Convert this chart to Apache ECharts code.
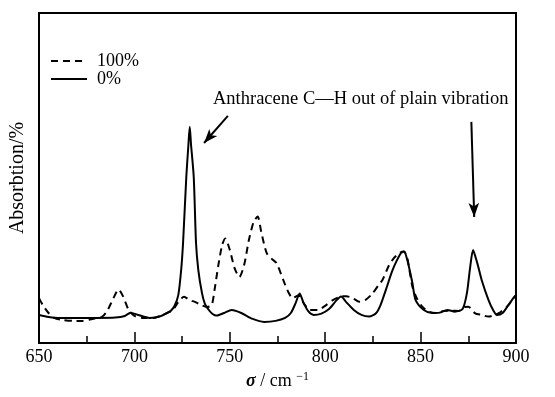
<!DOCTYPE html>
<html>
<head>
<meta charset="utf-8">
<script src="https://cdn.jsdelivr.net/npm/echarts@6/dist/echarts.min.js"></script>
<style>
    html, body { margin: 0; padding: 0; background: #fff; }
    #chart { width: 555px; height: 397px; }
</style>
</head>
<body>
<div id="chart"></div>
<script>
// wavenumber / absorbtion (arbitrary units, 0-100 of plot height)
const solid0 = [
    [650, 8.5], [655, 7.9], [660, 7.6], [670, 7.6], [680, 7.6], [690, 7.7], [695, 8.2],
    [698, 9.2], [702, 8.5], [708, 7.6], [714, 8.2], [718, 9.4], [719, 9.7], [721, 11.2],
    [723, 14.5], [724.5, 22.1], [725.5, 30.3], [727.2, 50.3], [728.3, 60], [729, 65.5],
    [729.7, 60], [731.1, 50.3], [732.3, 30.3], [733.5, 22.1], [735.4, 15.2], [737, 11.8],
    [739, 10], [741, 8.8], [743, 8.3], [747, 9.1], [751, 10], [756, 9.1], [762, 7.3],
    [768, 6.4], [774, 6.7], [779, 7.6], [782, 9.1], [784.5, 12.1], [786.6, 15], [788.5, 12.4],
    [791, 9.7], [794, 8.5], [798, 8.9], [802, 10.3], [806, 13], [808.3, 14.1], [811, 12.4],
    [815, 10], [819, 8.5], [823, 8], [826.6, 9], [829, 11.5], [831.8, 16.1], [835.3, 22.1],
    [839.6, 27.2], [841.3, 27.7], [843, 25.2], [845.7, 18.2], [847.4, 13], [851.7, 10],
    [856, 9.1], [860, 9.2], [864, 10], [868, 9.5], [872, 10.3], [874.3, 15.2], [876, 23.1],
    [877.5, 28.2], [878.8, 26], [880, 23.6], [882, 19.1], [885.6, 13], [888, 10], [890, 8.5],
    [893, 9.1], [896, 11.5], [899, 13.9], [900, 14.5]
];
const dashed100 = [
    [650, 13.6], [652, 11.5], [655, 9.1], [658, 7.6], [662, 7], [668, 6.7], [673, 6.7],
    [678, 7.3], [683, 7.9], [686, 10], [689, 13.6], [691.7, 16.2], [694, 14.2], [697, 10],
    [700, 8.2], [705, 7.6], [710, 7.6], [715, 8.5], [720, 10], [723, 12.4], [726, 14],
    [729, 13], [732, 12.4], [735, 11.5], [738, 10.9], [740.5, 11.5], [742, 16.1], [744, 23.6],
    [746, 29.7], [747.6, 31.7], [750, 28.2], [752.5, 22.7], [755, 20], [757.5, 23.6],
    [760, 31.2], [762.5, 36.7], [764.6, 38.3], [766.5, 33.6], [769.3, 27.3], [772, 25.5],
    [774.5, 24.2], [778, 19.1], [780.6, 15.5], [783, 13.6], [786, 14.5], [789, 11.8],
    [792, 10], [796, 10], [800.5, 11.5], [804, 13], [808.3, 14.1], [811, 14.2], [814.4, 13.6],
    [817.9, 12.5], [821, 13], [824.8, 15], [828, 17.6], [830, 19.1], [833.5, 23.6],
    [836, 25.7], [839, 27.3], [841.3, 27.7], [843, 25.8], [845.7, 17.1], [848, 13.6],
    [850.9, 11], [854.3, 9.5], [858, 9.1], [862, 9.7], [866, 9.8], [870, 9.7], [873, 10.9],
    [875, 11], [878.6, 9], [882, 8.5], [885.6, 8], [889, 8.5], [892, 9.4], [896, 11.5],
    [900, 14.5]
];
const seriesNames = ["100%", "0%"];
const xTicks = [650, 700, 750, 800, 850, 900];
const arrowLeft = [[749, 68.8], [736.5, 60.6]];
const arrowRight = [[876.6, 67], [878.1, 38.2]];
const noteText = "Anthracene C\u2014H out of plain vibration";

const chart = echarts.init(document.getElementById("chart"));
const serif = "Liberation Serif";

const arrowLine = (pts) => ({
    silent: true,
    symbol: ["none", "arrow"],
    symbolSize: [8, 14],
    label: { show: false },
    lineStyle: { color: "#000", type: "solid", width: 2 },
    data: [[{ coord: pts[0] }, { coord: pts[1] }]]
});

const option = {
    animation: false,
    textStyle: { fontFamily: serif, color: "#000" },
    grid: {
        left: 36, right: 39, top: 13, bottom: 54,
        show: true, borderColor: "#000", borderWidth: 2
    },
    legend: {
        orient: "vertical",
        left: 50,
        top: 52,
        padding: 0,
        itemWidth: 36,
        itemHeight: 10,
        itemGap: 0,
        itemStyle: { opacity: 0 },
        data: seriesNames,
        textStyle: { fontFamily: serif, fontSize: 18, lineHeight: 18, color: "#000", padding: [0, 0, 0, 5] }
    },
    xAxis: {
        type: "value",
        min: xTicks[0],
        max: xTicks[xTicks.length - 1],
        interval: 50,
        axisLine: { show: true, lineStyle: { color: "#000", width: 2 } },
        axisTick: { show: true, inside: true, length: 11, lineStyle: { color: "#000", width: 1.5 } },
        minorTick: { show: true, splitNumber: 2, length: 7, lineStyle: { color: "#000", width: 1.5 } },
        splitLine: { show: false },
        axisLabel: { fontFamily: serif, fontSize: 18, color: "#000", margin: 5 },
        name: "{s|\u03c3} / cm {sup|\u22121}",
        nameLocation: "middle",
        nameGap: 28,
        nameTextStyle: {
            fontFamily: serif, fontSize: 18, color: "#000",
            rich: {
                s: { fontFamily: serif, fontSize: 18, fontWeight: "bold", fontStyle: "italic" },
                sup: { fontFamily: serif, fontSize: 12, verticalAlign: "top", padding: [0, 0, 9, 0] }
            }
        }
    },
    yAxis: {
        type: "value",
        min: 0,
        max: 100,
        axisLine: { show: true, lineStyle: { color: "#000", width: 2 } },
        axisTick: { show: false },
        axisLabel: { show: false },
        splitLine: { show: false },
        name: "Absorbtion/%",
        nameLocation: "middle",
        nameGap: 11,
        nameTextStyle: { fontFamily: serif, fontSize: 20, color: "#000" }
    },
    graphic: [{
        type: "text",
        left: 213,
        top: 90,
        style: { text: noteText, font: "18.5px 'Liberation Serif'", fill: "#000" }
    }],
    series: [
        {
            name: seriesNames[0],
            type: "line",
            data: dashed100,
            symbol: "none",
            smooth: 0.25,
            lineStyle: { color: "#000", width: 2, type: [7, 5] },
            itemStyle: { color: "#000" },
            markLine: arrowLine(arrowLeft)
        },
        {
            name: seriesNames[1],
            type: "line",
            data: solid0,
            symbol: "none",
            smooth: 0.25,
            lineStyle: { color: "#000", width: 2, type: "solid" },
            itemStyle: { color: "#000" },
            markLine: arrowLine(arrowRight)
        }
    ]
};
chart.setOption(option);
</script>
</body>
</html>
